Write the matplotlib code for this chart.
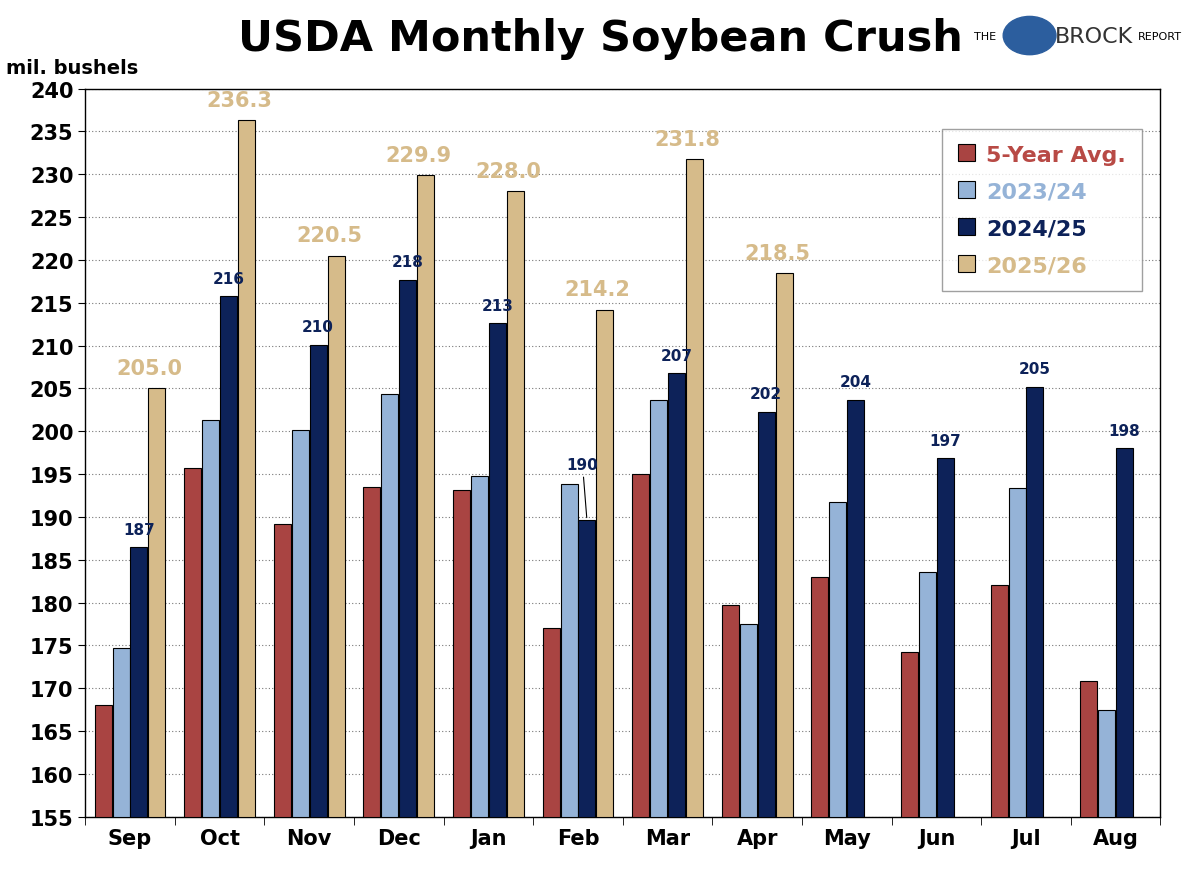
import matplotlib
matplotlib.use("Agg")
import matplotlib.pyplot as plt
import numpy as np
from matplotlib.patches import Circle

months = ["Sep","Oct","Nov","Dec","Jan","Feb","Mar","Apr","May","Jun","Jul","Aug"]
avg5 = [168.0,195.7,189.2,193.5,193.1,177.0,195.0,179.7,183.0,174.2,182.1,170.9]
y2324 = [174.7,201.3,200.1,204.3,194.8,193.9,203.7,177.5,191.8,183.6,193.4,167.5]
y2425 = [186.5,215.8,210.1,217.7,212.6,189.6,206.8,202.3,203.7,196.9,205.2,198.0]
y2526 = [205.0,236.3,220.5,229.9,228.0,214.2,231.8,218.5]
lab2425 = ["187","216","210","218","213","190","207","202","204","197","205","198"]
series = ["5-Year Avg.","2023/24","2024/25","2025/26"]
colors = ["#A94442","#95B3D7","#0D2259","#D6BB8A"]
textcolors = ["#B84A45","#95B3D7","#0D2259","#D6BB8A"]

fig = plt.figure(figsize=(12,8.7), dpi=100)
ax = fig.add_axes([0.071,0.060,0.896,0.837])
x = np.arange(len(months))
w = 0.19
offs = [-0.3,-0.1,0.1,0.3]
for vals,c,o,lab in zip([avg5,y2324,y2425,y2526],colors,offs,series):
    xx = x[:len(vals)]+o
    ax.bar(xx,[v-155 for v in vals],bottom=155,width=w,color=c,edgecolor="black",linewidth=0.8,label=lab,zorder=3)

for i,(v,l) in enumerate(zip(y2425,lab2425)):
    if i==5:
        ax.annotate(l,xy=(i+0.1,v),xytext=(i+0.05,195.3),ha="center",va="bottom",
                    fontsize=11,fontweight="bold",color="#0D2259",
                    arrowprops=dict(arrowstyle="-",color="black",lw=0.8),zorder=5)
    else:
        ax.text(i+0.1,v+1.2,l,ha="center",va="bottom",fontsize=11,fontweight="bold",color="#0D2259",zorder=5)
for i,v in enumerate(y2526):
    ax.text(i+0.22,v+1.2,f"{v:.1f}",ha="center",va="bottom",fontsize=15,fontweight="bold",color="#D6BB8A",zorder=5)

ax.set_ylim(155,240)
ax.set_xlim(-0.5,11.5)
ax.set_yticks(range(155,241,5))
ax.set_xticks(x)
ax.set_xticklabels(months,fontsize=15,fontweight="bold")
ax.tick_params(axis="y",labelsize=15,length=5)
for t in ax.get_yticklabels(): t.set_fontweight("bold")
ax.tick_params(axis="x",length=0,pad=8)
ax.set_xticks(np.arange(-0.5,12,1),minor=True)
ax.tick_params(axis="x",which="minor",length=6)
ax.yaxis.grid(True,linestyle=(0,(1,2)),color="#777777",linewidth=0.8,zorder=0)
for s in ax.spines.values(): s.set_linewidth(1)

leg = ax.legend(loc="upper right",bbox_to_anchor=(0.993,0.96),fontsize=16,frameon=True,fancybox=False,
                edgecolor="#888888",handlelength=0.8,handleheight=0.8,borderpad=0.7,labelspacing=0.75,handletextpad=0.5)
for t,c in zip(leg.get_texts(),textcolors):
    t.set_color(c); t.set_fontweight("bold")

fig.text(0.005,0.915,"mil. bushels",fontsize=14,fontweight="bold")
fig.text(0.50,0.955,"USDA Monthly Soybean Crush",fontsize=31,fontweight="bold",ha="center",va="center")
fig.text(0.812,0.958,"THE",fontsize=8,va="center")
fig.patches.append(Circle((0.858,0.958),0.022,transform=fig.transFigure,color="#2C5E9E",zorder=5))
fig.text(0.879,0.958,"BROCK",fontsize=16,va="center",color="#333333")
fig.text(0.948,0.958,"REPORT",fontsize=8,va="center")
fig.savefig("out.png",dpi=100)
